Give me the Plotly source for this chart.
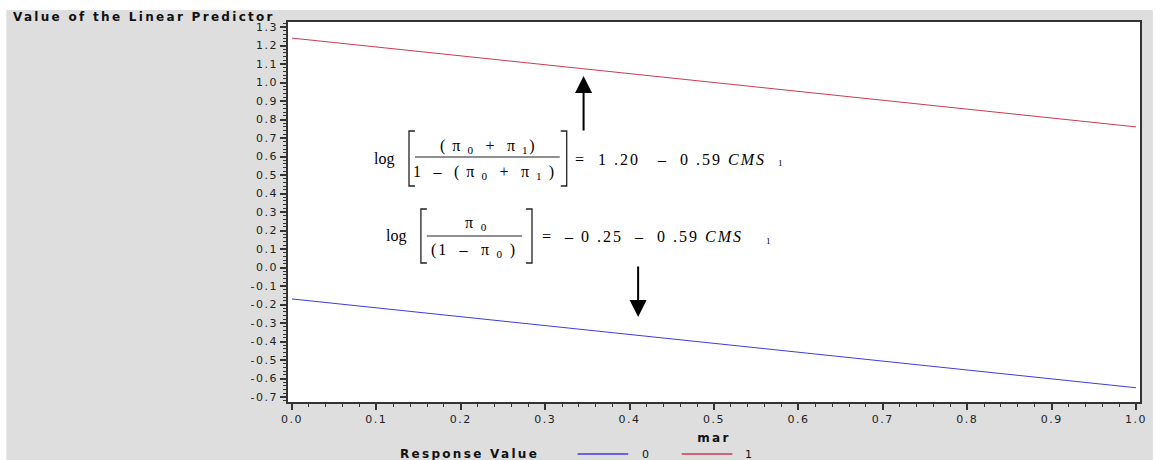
import plotly.graph_objects as go

# ---------------- data ----------------
mar = [0.0, 1.0]
pred_resp0 = [-0.17, -0.65]
pred_resp1 = [1.24, 0.76]
response_labels = ["0", "1"]
x_tick_vals = [0.0, 0.1, 0.2, 0.3, 0.4, 0.5, 0.6, 0.7, 0.8, 0.9, 1.0]
x_tick_text = ["0.0", "0.1", "0.2", "0.3", "0.4", "0.5", "0.6", "0.7", "0.8", "0.9", "1.0"]
y_tick_vals = [-0.7, -0.6, -0.5, -0.4, -0.3, -0.2, -0.1, 0.0, 0.1, 0.2, 0.3,
               0.4, 0.5, 0.6, 0.7, 0.8, 0.9, 1.0, 1.1, 1.2, 1.3]
y_tick_text = ["-0.7", "-0.6", "-0.5", "-0.4", "-0.3", "-0.2", "-0.1", "0.0", "0.1", "0.2", "0.3",
               "0.4", "0.5", "0.6", "0.7", "0.8", "0.9", "1.0", "1.1", "1.2", "1.3"]
y_title = "Value of the Linear Predictor"
x_title = "mar"
legend_title = "Response Value"

# ---------------- styling / layout helpers ----------------
W, H = 1156, 460
L, R, T, B = 288, 1147, 22, 402
BLUE = "#3c3cdc"
RED = "#c83c50"
GRAY = "#dedede"
AX = "#333333"
SANS = "DejaVu Sans"
SERIF = "Liberation Serif"
NB = "\u00a0"


def px(x):
    return (x - L) / (R - L)


def py(y):
    return (B - y) / (B - T)


def ls(text, s):
    return f"<span style='letter-spacing:{s}px'>{text}</span>"


fig = go.Figure()
fig.add_trace(go.Scatter(x=mar, y=pred_resp0, mode="lines", name=response_labels[0],
                         line=dict(color=BLUE, width=1), showlegend=False))
fig.add_trace(go.Scatter(x=mar, y=pred_resp1, mode="lines", name=response_labels[1],
                         line=dict(color=RED, width=1), showlegend=False))

tickfont = dict(family=SANS, size=11, color="#222")
fig.update_xaxes(range=[-0.0047, 1.0047], tickmode="array", tickvals=x_tick_vals,
                 ticktext=[ls(t, 1.5) for t in x_tick_text], tickfont=tickfont,
                 ticks="outside", ticklen=6, tickwidth=1.5, tickcolor=AX,
                 showline=True, linecolor=AX, linewidth=1.5, mirror=True,
                 showgrid=False, zeroline=False,
                 minor=dict(tick0=0, dtick=0.02, ticks="outside", ticklen=3,
                            tickwidth=1, tickcolor=AX, showgrid=False),
                 title=dict(text=ls("<b>" + x_title + "</b>", 2.3),
                            font=dict(family=SANS, size=12, color="#111"), standoff=9))
fig.update_yaxes(range=[-0.727, 1.327], tickmode="array", tickvals=y_tick_vals,
                 ticktext=[ls(t, 1.5) for t in y_tick_text], tickfont=tickfont,
                 ticks="outside", ticklen=6, tickwidth=1.5, tickcolor=AX,
                 showline=True, linecolor=AX, linewidth=1.5, mirror=True,
                 showgrid=False, zeroline=False,
                 minor=dict(tick0=0, dtick=0.02, ticks="outside", ticklen=3,
                            tickwidth=1, tickcolor=AX, showgrid=False))

shapes = [
    dict(type="rect", xref="paper", yref="paper", x0=px(4), x1=px(W + 4), y0=py(H + 4), y1=py(10),
         fillcolor=GRAY, line=dict(width=0), layer="below"),
    dict(type="rect", xref="paper", yref="paper", x0=0, x1=1, y0=0, y1=1,
         fillcolor="white", line=dict(width=0), layer="below"),
]


def bracket(x, top, bot, side):
    d = 6 if side == "L" else -6
    path = (f"M {px(x + d)},{py(top)} L {px(x)},{py(top)} L {px(x)},{py(bot)} "
            f"L {px(x + d)},{py(bot)}")
    return dict(type="path", xref="paper", yref="paper", path=path,
                line=dict(color="#222", width=1.3), layer="above")


def hline(x0, x1, y, color="#222", width=1.2):
    return dict(type="line", xref="paper", yref="paper", x0=px(x0), x1=px(x1), y0=py(y), y1=py(y),
                line=dict(color=color, width=width), layer="above")


# equation 1
shapes += [bracket(410, 131, 186, "L"), bracket(569, 131, 186, "R"), hline(416, 562, 157)]
# equation 2
shapes += [bracket(422, 209, 263, "L"), bracket(534, 209, 263, "R"), hline(428, 524, 236)]
# legend samples
shapes += [hline(580, 631, 454, BLUE, 1.5), hline(685, 736, 454, RED, 1.5)]

annotations = []


def txt(text, x, y, size=16, anchor="center", family=SERIF, color="black"):
    annotations.append(dict(text=text, xref="paper", yref="paper", x=px(x), y=py(y),
                            xanchor=anchor, yanchor="middle", showarrow=False,
                            font=dict(family=family, size=size, color=color)))


# title at top-left
txt(ls("<b>" + y_title + "</b>", 2.3), 9, 17, size=12, anchor="left", family=SANS, color="#111")

# equation 1
pi = "\u03c0"
txt("log", 373, 159, anchor="left")
txt(ls(f"({NB}{pi}{NB}<sub>0</sub>{NB}{NB}+{NB}{NB}{pi}{NB}<sub>1</sub>)", 1.5), 490, 146)
txt(ls(f"1{NB}{NB}\u2013{NB}{NB}({NB}{pi}{NB}<sub>0</sub>{NB}{NB}+{NB}{NB}{pi}{NB}<sub>1</sub>{NB})", 1.5), 486, 172)
txt(ls(f"={NB}{NB}1{NB}.20{NB}{NB}{NB}\u2013{NB}{NB}0{NB}.59{NB}<i>CMS</i>", 2), 575, 159, anchor="left")
txt("1", 780, 163, size=9, anchor="left")

# equation 2
txt("log", 385, 236, anchor="left")
txt(ls(f"{pi}{NB}<sub>0</sub>", 1.8), 478, 223)
txt(ls(f"(1{NB}{NB}\u2013{NB}{NB}{pi}{NB}<sub>0</sub>{NB})", 1.8), 476, 250)
txt(ls(f"={NB}{NB}\u2013{NB}0{NB}.25{NB}{NB}\u2013{NB}{NB}0{NB}.59{NB}<i>CMS</i>", 2), 542, 236, anchor="left")
txt("1", 768, 241, size=9, anchor="left")

# legend text
txt(ls("<b>" + legend_title + "</b>", 2.3), 399, 454, size=12, anchor="left", family=SANS, color="#111")
txt(response_labels[0], 643, 454, size=11, anchor="left", family=SANS, color="#111")
txt(response_labels[1], 747, 454, size=11, anchor="left", family=SANS, color="#111")

# arrows
annotations.append(dict(x=px(586), y=py(76), xref="paper", yref="paper", ax=0, ay=56,
                        text="", showarrow=True, arrowhead=2, arrowsize=1.7, arrowwidth=2,
                        arrowcolor="black", standoff=0))
annotations.append(dict(x=px(641), y=py(317), xref="paper", yref="paper", ax=0, ay=-52,
                        text="", showarrow=True, arrowhead=2, arrowsize=1.7, arrowwidth=2,
                        arrowcolor="black", standoff=0))

fig.update_layout(width=W, height=H, margin=dict(l=L, r=W - R, t=T, b=H - B),
                  paper_bgcolor="white", plot_bgcolor="white",
                  shapes=shapes, annotations=annotations, showlegend=False)

fig.write_html("out.html")
